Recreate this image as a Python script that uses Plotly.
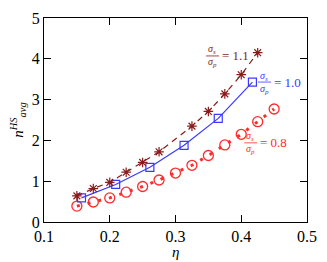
import plotly.graph_objects as go

eta_08 = [0.15, 0.175, 0.20, 0.225, 0.25, 0.275, 0.30, 0.325, 0.35, 0.375, 0.40, 0.425, 0.45]
n_08 = [0.39, 0.49, 0.59, 0.73, 0.87, 1.03, 1.20, 1.39, 1.63, 1.89, 2.15, 2.46, 2.77]

eta_10 = [0.157, 0.209, 0.261, 0.313, 0.365, 0.417]
n_10 = [0.59, 0.92, 1.34, 1.88, 2.54, 3.43]

eta_11 = [0.15, 0.175, 0.20, 0.225, 0.25, 0.275, 0.325, 0.35, 0.375, 0.40, 0.425]
n_11 = [0.64, 0.82, 0.97, 1.22, 1.46, 1.72, 2.35, 2.71, 3.14, 3.61, 4.15]

x_ticks = [0.1, 0.2, 0.3, 0.4, 0.5]
y_ticks = [0, 1, 2, 3, 4, 5]

labels = ["1.1", "1.0", "0.8"]

RED = "#ff2a2a"
BLUE = "#3a3aff"
DRED = "#8b1a1a"
FONT = "Liberation Serif"

fig = go.Figure()
fig.add_trace(go.Scatter(x=eta_08, y=n_08, mode="lines+markers",
                         line=dict(color=RED, width=3, dash="3px,8px"),
                         marker=dict(symbol="circle-open", size=10, color=RED, line=dict(width=1.3, color=RED))))
fig.add_trace(go.Scatter(x=eta_10, y=n_10, mode="lines+markers",
                         line=dict(color=BLUE, width=1.2),
                         marker=dict(symbol="square-open", size=8, color=BLUE, line=dict(width=1.2, color=BLUE))))
fig.add_trace(go.Scatter(x=eta_11, y=n_11, mode="lines+markers",
                         line=dict(color=DRED, width=1.2, dash="6px,5px"),
                         marker=dict(symbol="asterisk-open", size=8, color=DRED, line=dict(width=1.2, color=DRED))))


def frac_label(x, y, val, color):
    f = dict(family=FONT, size=10, color=color)
    fig.add_annotation(x=x, y=y, xref="x", yref="y", xanchor="center", yanchor="middle", showarrow=False,
                       xshift=7, yshift=6, text="<i>σ<sub>s</sub></i>", font=f)
    fig.add_annotation(x=x, y=y, xref="x", yref="y", xanchor="center", yanchor="middle", showarrow=False,
                       xshift=7, yshift=-7, text="<i>σ<sub>p</sub></i>", font=f)
    fig.add_shape(type="line", xref="x", yref="y", xsizemode="pixel", ysizemode="pixel",
                  xanchor=x, yanchor=y, x0=1, x1=14, y0=0, y1=0,
                  line=dict(color=color, width=0.8))
    fig.add_annotation(x=x, y=y, xref="x", yref="y", xanchor="left", yanchor="middle", showarrow=False,
                       xshift=15, text="= " + val, font=dict(family=FONT, size=13, color=color))


frac_label(0.345, 4.07, labels[0], DRED)
frac_label(0.424, 3.43, labels[1], BLUE)
frac_label(0.403, 1.94, labels[2], RED)

axis_common = dict(showline=True, linecolor="black", linewidth=1.3, mirror="allticks",
                   ticks="inside", ticklen=7, tickcolor="black", tickwidth=1,
                   showgrid=False, zeroline=False,
                   tickfont=dict(family=FONT, size=16, color="black"))

fig.update_xaxes(range=[0.1, 0.5], tickvals=x_ticks, ticktext=[str(v) for v in x_ticks],
                 **axis_common)
fig.update_yaxes(range=[0, 5], tickvals=y_ticks, ticktext=[str(v) for v in y_ticks],
                 title=dict(text="<i>n</i><sup><i>HS</i></sup><sub><i>avg</i></sub>",
                            font=dict(family=FONT, size=15, color="black"), standoff=4),
                 **axis_common)

fig.add_annotation(x=0.5, y=0, xref="paper", yref="paper", xanchor="center", yanchor="top",
                   yshift=-20, showarrow=False, text="<i>η</i>",
                   font=dict(family=FONT, size=15, color="black"))

fig.update_layout(width=327, height=262, margin=dict(l=44, r=10, t=10, b=40),
                  plot_bgcolor="white", paper_bgcolor="white", showlegend=False)

fig.write_html("out.html", config={"displayModeBar": False},
               post_script="document.body.style.margin='0';document.body.style.overflow='hidden';")
